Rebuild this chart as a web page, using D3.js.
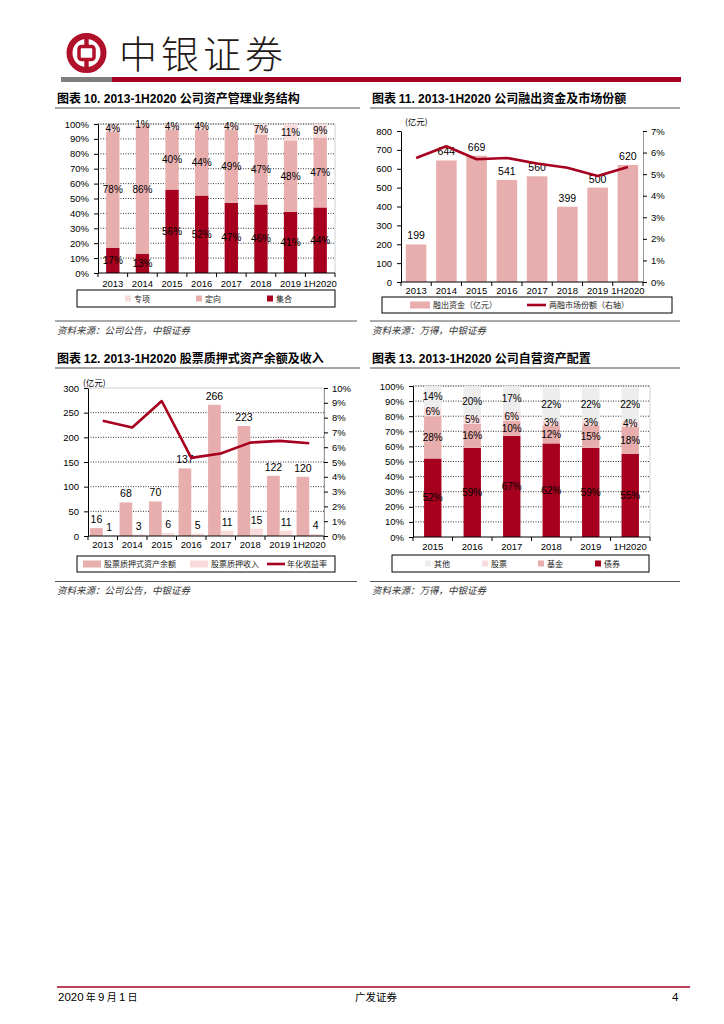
<!DOCTYPE html>
<html><head><meta charset="utf-8">
<script src="https://cdn.jsdelivr.net/npm/d3@7"></script>
<style>body{margin:0;background:#fff}svg{display:block}</style>
</head><body><script>
// ---------- data ----------
const years8 = ['2013','2014','2015','2016','2017','2018','2019','1H2020'];
const amCollective = [17,13,56,52,47,46,41,44];      // 集合
const amTargeted   = [78,86,40,44,49,47,48,47];      // 定向
const amSpecial    = [4,1,4,4,4,7,11,9];             // 专项
const marginLending = [199,644,669,541,560,399,500,620]; // 融出资金（亿元）
const marginShare   = [5.75,6.29,5.69,5.75,5.49,5.30,4.91,5.33]; // 两融市场份额 %
const pledgeBalance = [16,68,70,137,266,223,122,120]; // 股票质押式资产余额
const pledgeIncome  = [1,3,6,5,11,15,11,4];           // 股票质押收入
const pledgeYield   = [7.78,7.33,9.12,5.28,5.57,6.31,6.43,6.27]; // 年化收益率 %
const years6 = ['2015','2016','2017','2018','2019','1H2020'];
const propBond  = [52,59,67,62,59,55];  // 债券
const propFund  = [28,16,10,12,15,18];  // 基金
const propStock = [6,5,6,3,3,4];        // 股票
const propOther = [14,20,17,22,22,22];  // 其他
const pctTicks = [0,10,20,30,40,50,60,70,80,90,100];
const lendTicks = [0,100,200,300,400,500,600,700,800];
const shareTicks = [0,1,2,3,4,5,6,7];
const pledgeTicks = [0,50,100,150,200,250,300];
const yieldTicks = [0,1,2,3,4,5,6,7,8,9,10];

// ---------- style ----------
const NUM = "'Liberation Sans Narrow','Arial Narrow','Liberation Sans',Arial,sans-serif";
const SANS = "'Liberation Sans',Arial,sans-serif";
const CJK = "'Noto Sans CJK SC','Noto Sans CJK TC',sans-serif";
const RED = '#A6001E', PINK = '#E8AEAE', LIGHT = '#F8DCDC', GRAY = '#EDEDED', LOGO = '#B0102A';

const svg = d3.select('body').append('svg').attr('width',724).attr('height',1024);

// ---------- header ----------
svg.append('circle').attr('cx',86.5).attr('cy',53).attr('r',17).attr('fill','none').attr('stroke',LOGO).attr('stroke-width',6);
svg.append('rect').attr('x',84.3).attr('y',36).attr('width',4.4).attr('height',34).attr('fill',LOGO);
svg.append('rect').attr('x',79).attr('y',46.5).attr('width',15).attr('height',13).attr('rx',2.5).attr('fill','#fff').attr('stroke',LOGO).attr('stroke-width',3.5);
svg.append('text').attr('x',119).attr('y',68).text('中银证券')
  .attr('font-family',CJK).attr('font-size',38).attr('font-weight',300).attr('letter-spacing',4).attr('fill','#231815');
svg.append('rect').attr('x',61).attr('y',77).attr('width',51).attr('height',5).attr('fill','#7F7F7F');
svg.append('rect').attr('x',112).attr('y',77).attr('width',569).attr('height',5).attr('fill','#A50021');

function title(x,y,num,txt,x2){
  const t = svg.append('text').attr('x',x).attr('y',y).attr('font-weight','bold').attr('font-size',12).attr('fill','#000');
  t.append('tspan').attr('font-family',CJK).text('图表 ');
  t.append('tspan').attr('font-family',SANS).text(num+' 2013-1H2020 ');
  t.append('tspan').attr('font-family',CJK).text(txt);
  svg.append('line').attr('x1',x-2).attr('x2',x2).attr('y1',y+5).attr('y2',y+5).attr('stroke','#A6A6A6').attr('stroke-width',2);
}
function source(x,y,txt,x2){
  svg.append('line').attr('x1',x-2).attr('x2',x2).attr('y1',y-12.5).attr('y2',y-12.5).attr('stroke','#555').attr('stroke-width',1);
  svg.append('text').attr('x',x).attr('y',y).text(txt).attr('font-family',CJK).attr('font-size',9.5)
    .attr('font-style','italic').attr('fill','#333');
}
title(57,103,'10.','公司资产管理业务结构',360);
title(372,103,'11.','公司融出资金及市场份额',680);
title(57,363,'12.','股票质押式资产余额及收入',360);
title(372,363,'13.','公司自营资产配置',680);
source(57,333.5,'资料来源：公司公告，中银证券',357);
source(372,333.5,'资料来源：万得，中银证券',680);
source(57,594,'资料来源：公司公告，中银证券',357);
source(372,594,'资料来源：万得，中银证券',680);

// ---------- helpers ----------
function styleAxis(g){
  g.attr('font-family',NUM).attr('font-size',9.5);
  g.selectAll('.domain').attr('stroke','#000');
  g.selectAll('.tick line').attr('stroke','#000');
  g.selectAll('.tick text').attr('fill','#000');
}
function leftAxis(y,x0,ticks,fmt){
  svg.append('g').attr('transform',`translate(${x0},0)`)
    .call(d3.axisLeft(y).tickValues(ticks).tickFormat(fmt).tickSize(4).tickSizeOuter(0).tickPadding(5))
    .call(styleAxis);
}
function rightAxis(y,x0,ticks,fmt){
  svg.append('g').attr('transform',`translate(${x0},0)`)
    .call(d3.axisRight(y).tickValues(ticks).tickFormat(fmt).tickSize(4).tickSizeOuter(0).tickPadding(4))
    .call(styleAxis)
    .call(g=>g.selectAll('.domain').attr('stroke','#9A9A9A'));
}
function bottomAxis(x,y0,labelDy){
  const [a,b] = x.range(); const n = x.domain().length;
  const g = svg.append('g').attr('font-family',NUM).attr('font-size',9.5);
  g.append('line').attr('x1',a).attr('x2',b).attr('y1',y0).attr('y2',y0).attr('stroke','#000');
  g.selectAll('.bt').data(d3.range(n+1)).join('line')
    .attr('x1',i=>a+i*x.step()).attr('x2',i=>a+i*x.step()).attr('y1',y0).attr('y2',y0+4).attr('stroke','#000');
  g.selectAll('.bl').data(x.domain()).join('text')
    .attr('x',d=>x(d)+x.bandwidth()/2).attr('y',y0+labelDy).attr('text-anchor','middle').text(d=>d);
}
function grid(y,vals,x1,x2){
  svg.append('g').selectAll('line').data(vals).join('line')
    .attr('x1',x1).attr('x2',x2).attr('y1',d=>y(d)).attr('y2',d=>y(d))
    .attr('stroke','#000').attr('stroke-width',0.8).attr('stroke-dasharray','1,1.5');
}
function frame(x1,x2,y1,y2){
  svg.append('path').attr('d',`M${x1},${y1}H${x2}V${y2}`).attr('fill','none').attr('stroke','#D0D0D0');
}
function legendBox(x,y,w,h){
  svg.append('rect').attr('x',x).attr('y',y).attr('width',w).attr('height',h).attr('fill','#fff').attr('stroke','#000').attr('stroke-width',1);
}
function legText(x,y,t){
  svg.append('text').attr('x',x).attr('y',y).text(t).attr('font-family',CJK).attr('font-size',8).attr('fill','#222');
}
function stacked(cats,keys,rows,colors,x,y){
  const series = d3.stack().keys(keys)(rows);
  series.forEach((s,k)=>{
    const g = svg.append('g');
    g.selectAll('rect').data(s).join('rect')
      .attr('x',d=>x(d.data.cat)).attr('width',x.bandwidth())
      .attr('y',d=>y(Math.min(d[1],100))).attr('height',d=>y(d[0])-y(Math.min(d[1],100)))
      .attr('fill',colors[k]);
  });
  series.forEach((s,k)=>{
    svg.append('g').selectAll('text').data(s).join('text')
      .attr('x',d=>x(d.data.cat)+x.bandwidth()/2).attr('y',d=>y((d[0]+d[1])/2)+3.5)
      .attr('text-anchor','middle').attr('font-family',NUM).attr('font-size',10).attr('fill','#000')
      .text(d=>(d[1]-d[0])+'%');
  });
}

// ---------- chart 10 ----------
{
  const x = d3.scaleBand().domain(years8).range([98,335]).paddingInner(0.55).paddingOuter(0.275);
  const y = d3.scaleLinear().domain([0,100]).range([273,124]);
  frame(98,335,124,273);
  grid(y,pctTicks.slice(1),98,335);
  const rows = years8.map((c,i)=>({cat:c, jh:amCollective[i], dx:amTargeted[i], zx:amSpecial[i]}));
  stacked(years8,['jh','dx','zx'],rows,[RED,PINK,LIGHT],x,y);
  leftAxis(y,98,pctTicks,d=>d+'%');
  bottomAxis(x,273,13.5);
  legendBox(77,290,258,17);
  const items = [['专项',LIGHT,125],['定向',PINK,196],['集合',RED,267]];
  items.forEach(([t,c,px])=>{
    svg.append('rect').attr('x',px).attr('y',295.5).attr('width',6).attr('height',6).attr('fill',c);
    legText(px+9,301.5,t);
  });
}

// ---------- chart 11 ----------
{
  const x = d3.scaleBand().domain(years8).range([401,643]).paddingInner(0.32).paddingOuter(0.16);
  const yL = d3.scaleLinear().domain([0,800]).range([282,131]);
  const yR = d3.scaleLinear().domain([0,7]).range([282,131]);
  svg.append('g').selectAll('rect').data(marginLending).join('rect')
    .attr('x',(d,i)=>x(years8[i])).attr('width',x.bandwidth())
    .attr('y',d=>yL(d)).attr('height',d=>282-yL(d)).attr('fill',PINK);
  svg.append('g').selectAll('text').data(marginLending).join('text')
    .attr('x',(d,i)=>x(years8[i])+x.bandwidth()/2).attr('y',d=>yL(d)-5)
    .attr('text-anchor','middle').attr('font-family',NUM).attr('font-size',10.5).text(d=>d);
  const line = d3.line().x((d,i)=>x(years8[i])+x.bandwidth()/2).y(d=>yR(d));
  svg.append('path').attr('d',line(marginShare)).attr('fill','none').attr('stroke',RED).attr('stroke-width',2.6).attr('stroke-linejoin','round');
  leftAxis(yL,401,lendTicks,d=>d);
  rightAxis(yR,643,shareTicks,d=>d+'%');
  bottomAxis(x,282,11.5);
  svg.append('text').attr('x',405).attr('y',125).text('(亿元)').attr('font-family',CJK).attr('font-size',8.5);
  legendBox(382,297,290,16);
  svg.append('rect').attr('x',410).attr('y',301.5).attr('width',20).attr('height',7).attr('fill',PINK);
  legText(433,308,'融出资金（亿元）');
  svg.append('line').attr('x1',527).attr('x2',546).attr('y1',305).attr('y2',305).attr('stroke',RED).attr('stroke-width',2.6);
  legText(549,308,'两融市场份额（右轴）');
}

// ---------- chart 12 ----------
{
  const x0 = d3.scaleBand().domain(years8).range([88,324]).paddingInner(0.14).paddingOuter(0.07);
  const x1 = d3.scaleBand().domain(['bal','inc']).range([0,x0.bandwidth()]);
  const yL = d3.scaleLinear().domain([0,300]).range([536,388]);
  const yR = d3.scaleLinear().domain([0,10]).range([536,388]);
  frame(88,324,388,536);
  grid(yL,[50,100,150,200,250],88,324);
  const rows = years8.map((c,i)=>({cat:c, bal:pledgeBalance[i], inc:pledgeIncome[i]}));
  [['bal',PINK],['inc',LIGHT]].forEach(([k,col])=>{
    svg.append('g').selectAll('rect').data(rows).join('rect')
      .attr('x',d=>x0(d.cat)+x1(k)).attr('width',x1.bandwidth())
      .attr('y',d=>yL(d[k])).attr('height',d=>536-yL(d[k])).attr('fill',col);
    svg.append('g').selectAll('text').data(rows).join('text')
      .attr('x',d=>x0(d.cat)+x1(k)+x1.bandwidth()/2).attr('y',d=>yL(d[k])-5)
      .attr('text-anchor','middle').attr('font-family',NUM).attr('font-size',10.5).text(d=>d[k]);
  });
  const line = d3.line().x((d,i)=>x0(years8[i])+x0.bandwidth()/2).y(d=>yR(d));
  svg.append('path').attr('d',line(pledgeYield)).attr('fill','none').attr('stroke',RED).attr('stroke-width',2.6).attr('stroke-linejoin','round');
  leftAxis(yL,88,pledgeTicks,d=>d);
  rightAxis(yR,324,yieldTicks,d=>d+'%');
  bottomAxis(x0,536,12);
  svg.append('text').attr('x',83).attr('y',385.5).text('(亿元)').attr('font-family',CJK).attr('font-size',8.5);
  legendBox(77,556,258,16);
  svg.append('rect').attr('x',83).attr('y',560.5).attr('width',18).attr('height',7).attr('fill',PINK);
  legText(104,567,'股票质押式资产余额');
  svg.append('rect').attr('x',190).attr('y',560.5).attr('width',18).attr('height',7).attr('fill',LIGHT);
  legText(211,567,'股票质押收入');
  svg.append('line').attr('x1',267).attr('x2',285).attr('y1',564).attr('y2',564).attr('stroke',RED).attr('stroke-width',2.6);
  legText(287,567,'年化收益率');
}

// ---------- chart 13 ----------
{
  const x = d3.scaleBand().domain(years6).range([413,650]).paddingInner(0.56).paddingOuter(0.28);
  const y = d3.scaleLinear().domain([0,100]).range([537,386]);
  frame(413,650,386,537);
  grid(y,pctTicks.slice(1),413,650);
  const rows = years6.map((c,i)=>({cat:c, bond:propBond[i], fund:propFund[i], stock:propStock[i], other:propOther[i]}));
  stacked(years6,['bond','fund','stock','other'],rows,[RED,PINK,LIGHT,GRAY],x,y);
  leftAxis(y,413,pctTicks,d=>d+'%');
  bottomAxis(x,537,13);
  legendBox(392,555,257,17);
  const items = [['其他',GRAY,425],['股票',LIGHT,482],['基金',PINK,538],['债券',RED,595]];
  items.forEach(([t,c,px])=>{
    svg.append('rect').attr('x',px).attr('y',560.5).attr('width',6).attr('height',6).attr('fill',c);
    legText(px+9,566.5,t);
  });
}

// ---------- footer ----------
svg.append('line').attr('x1',57).attr('x2',690).attr('y1',987).attr('y2',987).attr('stroke','#A50021').attr('stroke-width',1.5);
{
  const t = svg.append('text').attr('x',58).attr('y',1001).attr('font-size',11).attr('fill','#000');
  [['2020',NUM],[' 年 ',CJK],['9',NUM],[' 月 ',CJK],['1',NUM],[' 日',CJK]].forEach(([s,f])=>t.append('tspan').attr('font-family',f).attr('font-size',f===CJK?10:11.5).text(s));
}
svg.append('text').attr('x',355).attr('y',1001).text('广发证券').attr('font-family',CJK).attr('font-size',10.5);
svg.append('text').attr('x',672).attr('y',1001).text('4').attr('font-family',NUM).attr('font-size',11.5);
</script></body></html>
